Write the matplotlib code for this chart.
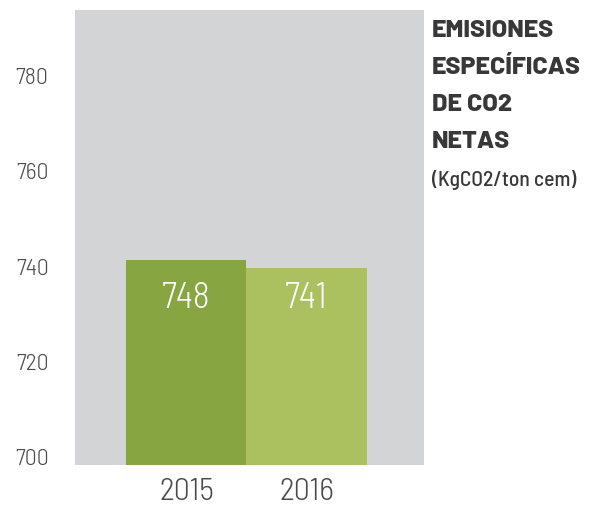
import matplotlib.pyplot as plt
from matplotlib import font_manager

# datos
years = ['2015', '2016']
bar_heights = [741.2, 739.5]
bar_labels = ['748', '741']       # valores escritos en las barras
y_ticks = [700, 720, 740, 760, 780]

names = {f.name for f in font_manager.fontManager.ttflist}
cond = 'Barlow Semi Condensed' if 'Barlow Semi Condensed' in names else 'DejaVu Sans'
wide = 'Barlow' if 'Barlow' in names else 'DejaVu Sans'

plt.rcParams['font.family'] = [cond, 'DejaVu Sans']

fig = plt.figure(figsize=(5.95, 5.06), dpi=100)
ax = fig.add_axes([75 / 595, 40.3 / 506, 349 / 595, 454.7 / 506])
ax.set_facecolor('#d3d4d6')

colors = ['#87a641', '#abc05e']
ax.bar([0, 1], [h - 698.2 for h in bar_heights], bottom=698.2, width=1.0,
       color=colors, linewidth=0)

for i, lab in enumerate(bar_labels):
    ax.text(i, 733.4, lab, ha='center', va='center', color='white',
            fontsize=26, fontweight=300)

ax.set_xlim(-0.929, 1.979)
ax.set_ylim(698.2, 793.7)
ax.set_xticks([0, 1])
ax.set_xticklabels(years, fontsize=23, color='#4a4a4a', fontweight=300)
ax.set_yticks(y_ticks)
ax.set_yticklabels([str(t) for t in y_ticks], fontsize=17, color='#4a4a4a',
                   fontweight=300)
ax.tick_params(axis='x', length=0, pad=9)
ax.tick_params(axis='y', length=0, pad=19)
for s in ax.spines.values():
    s.set_visible(False)

title_lines = ['EMISIONES', 'ESPECÍFICAS', 'DE CO2', 'NETAS']
for k, line in enumerate(title_lines):
    fig.text(432 / 595, 1 - (31 + 37 * k) / 506, line, ha='left', va='center',
             fontsize=18, fontweight=800, color='#383838',
             family=[wide, 'DejaVu Sans'])
fig.text(432 / 595, 1 - 180 / 506, '(KgCO2/ton cem)', ha='left', va='center',
         fontsize=15.5, fontweight=500, color='#383838')

fig.savefig('out.png', dpi=100)
